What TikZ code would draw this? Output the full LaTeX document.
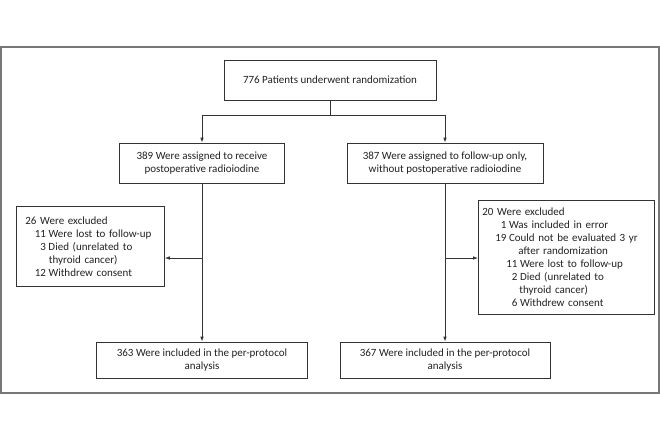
\documentclass[tikz,border=0pt]{standalone}
\usepackage{fontspec}
\setmainfont{Carlito}
\usetikzlibrary{arrows.meta}
\definecolor{lnc}{HTML}{333333}
\definecolor{frm}{HTML}{777777}
\definecolor{txt}{HTML}{222222}
\newcommand\numit[3]{\makebox[#1][r]{#2}\hspace{2.6pt}#3}
\tikzset{
  box/.style={draw=lnc, line width=0.8pt, rectangle, inner sep=0pt, align=center,
    text=txt, font=\fontsize{11}{13}\selectfont},
  exbox/.style={box, align=left},
  conn/.style={draw=lnc, line width=0.8pt},
  arr/.style={conn, -{Latex[length=5pt,width=3.6pt]}}
}
\begin{document}
\begin{tikzpicture}[x=1pt,y=-1pt]
\useasboundingbox (0,0) rectangle (660,440);
\fill[white] (0,0) rectangle (660,440);
\draw[frm, line width=1.2pt] (1,47) rectangle (659,393);

\node[box, minimum width=212pt, minimum height=40pt] (top) at (330,80) {776 Patients underwent randomization};

\node[box, minimum width=165pt, minimum height=40pt] (L1) at (202,163) {389 Were assigned to receive\\postoperative radioiodine};
\node[box, minimum width=196pt, minimum height=40pt] (R1) at (445,163) {387 Were assigned to follow-up only,\\without postoperative radioiodine};

\node[exbox, anchor=north west, minimum width=148pt, minimum height=80pt, inner xsep=9pt, text width=130pt] (LX) at (16,206) {%
26 Were excluded\\
\numit{20.5pt}{11}{Were lost to follow-up}\\
\numit{20.5pt}{3}{Died (unrelated to}\\
\hspace*{23.5pt}thyroid cancer)\\
\numit{20.5pt}{12}{Withdrew consent}};

\node[exbox, anchor=north west, minimum width=176pt, minimum height=114pt, inner xsep=4pt, text width=168pt] (RX) at (478,200) {%
20 Were excluded\\
\numit{24pt}{1}{Was included in error}\\
\numit{24pt}{19}{Could not be evaluated 3 yr}\\
\hspace*{36pt}after randomization\\
\numit{35pt}{11}{Were lost to follow-up}\\
\numit{35pt}{2}{Died (unrelated to}\\
\hspace*{37pt}thyroid cancer)\\
\numit{35pt}{6}{Withdrew consent}};

\node[box, minimum width=211pt, minimum height=36pt] (L2) at (202,360) {363 Were included in the per-protocol\\analysis};
\node[box, minimum width=210pt, minimum height=36pt] (R2) at (445,360) {367 Were included in the per-protocol\\analysis};

\coordinate (split) at (330,115);
\coordinate (lb) at (202,115);
\coordinate (rb) at (445,115);
\coordinate (lx) at (202,258);
\coordinate (rx) at (445,258);

\draw[conn] (top.south) -- (split);
\draw[arr] (split) -- (lb) -- (L1.north);
\draw[arr] (split) -- (rb) -- (R1.north);
\draw[arr] (L1.south) -- (L2.north);
\draw[arr] (R1.south) -- (R2.north);
\draw[arr] (lx) -- (lx -| LX.east);
\draw[arr] (rx) -- (rx -| RX.west);
\end{tikzpicture}
\end{document}
